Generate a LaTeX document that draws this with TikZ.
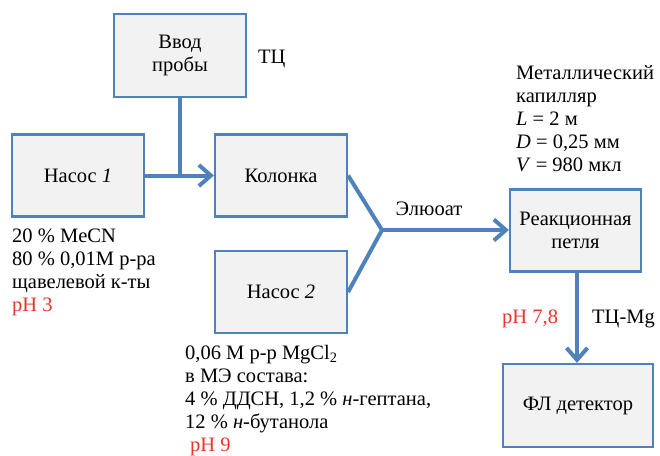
\documentclass[tikz,border=0pt]{standalone}
\usepackage{fontspec}
\setmainfont{Liberation Serif}
\usetikzlibrary{arrows.meta}
\definecolor{boxblue}{HTML}{4F81BD}
\definecolor{boxfill}{HTML}{F2F2F2}
\definecolor{phred}{HTML}{E8352B}
\begin{document}
\begin{tikzpicture}[x=1pt,y=-1pt,
  every node/.style={font=\fontsize{20.5}{23}\selectfont, inner sep=0pt},
  procbox/.style={draw=boxblue, fill=boxfill, line width=2.2pt, minimum width=132pt, minimum height=82pt, align=center},
  flow/.style={draw=boxblue, line width=4pt},
  flowarrow/.style={flow, -{Straight Barb[length=12pt, width=21pt, line width=4pt]}},
  note/.style={anchor=base west, align=left}]
\useasboundingbox (0,0) rectangle (660,455);
% boxes
\node[procbox, minimum height=83pt] (vvod) at (180,55.5) {Ввод\\пробы};
\node[procbox] (nas1) at (78,175.5) {Насос \textit{1}};
\node[procbox] (kol) at (281,175.5) {Колонка};
\node[procbox] (nas2) at (281,292) {Насос \textit{2}};
\node[procbox, minimum width=131pt] (loop) at (575.5,230.5) {Реакционная\\петля};
\node[procbox, minimum width=150pt, minimum height=83pt] (det) at (578,405.5) {ФЛ детектор};
\coordinate (j) at (382,230);
% connectors
\draw[flow] (vvod.south) -- (vvod.south |- nas1.east);
\draw[flowarrow] (nas1.east) -- (kol.west);
\draw[flow, line join=miter] (kol.east) -- (j) -- (nas2.east);
\draw[flowarrow] (j) -- (j -| loop.west);
\draw[flowarrow] (577,271) coordinate (ls) -- (ls |- det.north);
% texts (base = baseline of last line)
\node[note] (ttc) at (258,63) {ТЦ};
\node[note] (cap) at (516,171) {Металлический\\капилляр\\\textit{L} = 2 м\\\textit{D} = 0,25 мм\\\textit{V} = 980 мкл};
\node[anchor=base] (eluat) at (429,215) {Элюоат};
\node[note] (mob1) at (12,311) {20 \% MeCN\\80 \% 0,01M р-ра\\щавелевой к-ты\\\textcolor{phred}{pH 3}};
\node[note] (mob2) at (185,451) {0,06 M р-р MgCl\textsubscript{2}\\в МЭ состава:\\4 \% ДДСН, 1,2 \% \textit{н}-гептана,\\12 \% \textit{н}-бутанола\\\hspace{5pt}\textcolor{phred}{pH 9}};
\node[anchor=base west, text=phred] (ph78) at (502,323) {pH 7,8};
\node[anchor=base west] (tcmg) at (592,323) {ТЦ-Mg};
\end{tikzpicture}
\end{document}
